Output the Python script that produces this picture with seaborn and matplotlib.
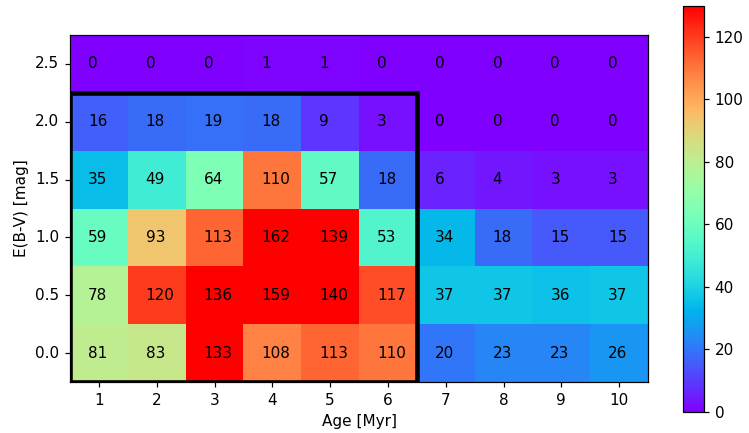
import matplotlib

matplotlib.use("Agg")

import matplotlib.pyplot as plt
import numpy as np
import pandas as pd
import seaborn as sns
from matplotlib.patches import Rectangle

ages = [1, 2, 3, 4, 5, 6, 7, 8, 9, 10]
ebv = ["2.5", "2.0", "1.5", "1.0", "0.5", "0.0"]
row_25 = [0, 0, 0, 1, 1, 0, 0, 0, 0, 0]
row_20 = [16, 18, 19, 18, 9, 3, 0, 0, 0, 0]
row_15 = [35, 49, 64, 110, 57, 18, 6, 4, 3, 3]
row_10 = [59, 93, 113, 162, 139, 53, 34, 18, 15, 15]
row_05 = [78, 120, 136, 159, 140, 117, 37, 37, 36, 37]
row_00 = [81, 83, 133, 108, 113, 110, 20, 23, 23, 26]

counts = pd.DataFrame(
    [row_25, row_20, row_15, row_10, row_05, row_00], index=ebv, columns=ages
)

DPI = 110
fig = plt.figure(figsize=(749 / DPI, 433 / DPI), dpi=DPI)
ax = fig.add_axes([70 / 749, (433 - 382) / 433, 578 / 749, 347 / 433])
cax = fig.add_axes([683 / 749, (433 - 412) / 433, 21 / 749, 406.5 / 433])

sns.heatmap(
    counts,
    cmap="rainbow",
    vmin=0,
    vmax=130,
    ax=ax,
    cbar_ax=cax,
    annot=False,
)

for i, label in enumerate(ebv):
    for j, age in enumerate(ages):
        ax.text(j + 0.31, i + 0.5, str(counts.loc[label, age]),
                ha="left", va="center", fontsize=10, color="black")

# box around the young / reddened region (clipped at the axes edge)
ax.add_patch(Rectangle((0, 1), 6, 5, fill=False, edgecolor="black", lw=3, clip_on=True))

for spine in ax.spines.values():
    spine.set_visible(True)
    spine.set_linewidth(0.8)
    spine.set_color("black")

ax.set_xticklabels([str(a) for a in ages], rotation=0)
ax.set_yticklabels(ebv, rotation=0)
ax.tick_params(axis="both", length=3.5, width=0.8, labelsize=10)
ax.set_xlabel("Age [Myr]", fontsize=10)
ax.set_ylabel("E(B-V) [mag]", fontsize=10)

cbar = ax.collections[0].colorbar
cbar.outline.set_linewidth(0.8)
cbar.outline.set_edgecolor("black")
cbar.set_ticks([0, 20, 40, 60, 80, 100, 120])
cax.tick_params(length=3.5, width=0.8, labelsize=10)

fig.savefig("out.png", dpi=DPI)
